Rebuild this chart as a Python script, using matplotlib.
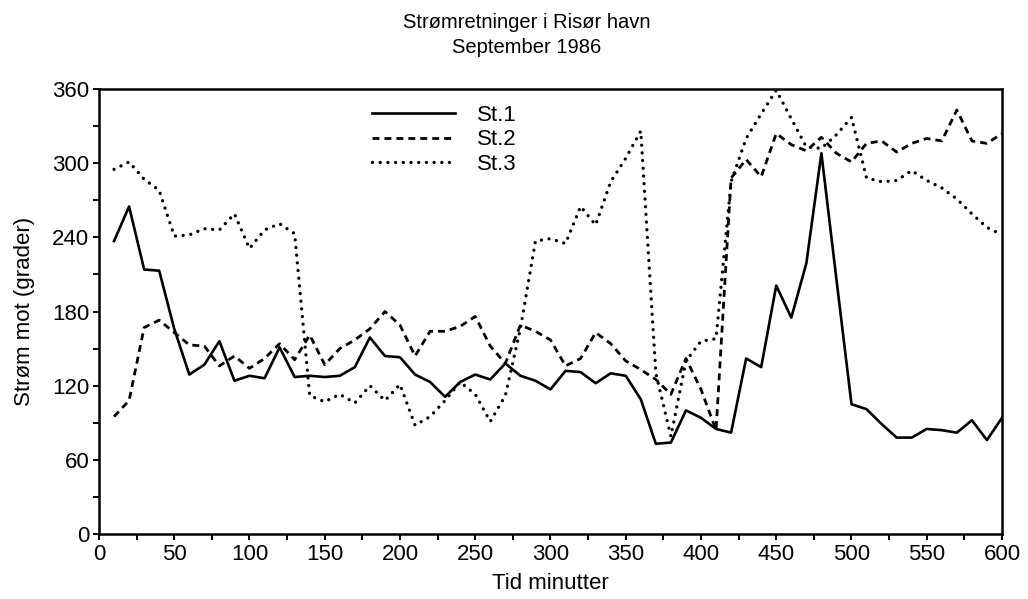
import matplotlib.pyplot as plt
from matplotlib.ticker import MultipleLocator

# Strømretninger i Risør havn, September 1986
tid = list(range(10, 601, 10))

st1 = [237, 265, 214, 213, 166, 129, 137, 156, 124, 128,
       126, 151, 127, 128, 127, 128, 135, 159, 144, 143,
       129, 123, 111, 123, 129, 125, 138, 128, 124, 117,
       132, 131, 122, 130, 128, 109, 73, 74, 100, 94,
       85, 82, 142, 135, 201, 175, 219, 308, 206, 105,
       101, 89, 78, 78, 85, 84, 82, 92, 76, 94]

st2 = [95, 108, 167, 173, 163, 153, 152, 136, 144, 134,
       142, 154, 141, 161, 137, 150, 157, 166, 180, 169,
       144, 164, 164, 168, 176, 152, 138, 169, 164, 157,
       136, 142, 163, 154, 140, 133, 125, 113, 142, 117,
       84, 288, 303, 289, 324, 315, 310, 321, 308, 301,
       316, 318, 309, 316, 320, 318, 343, 318, 316, 324]

st3 = [295, 301, 287, 278, 241, 242, 247, 246, 259, 231,
       246, 251, 243, 112, 107, 113, 106, 120, 108, 121,
       88, 95, 108, 123, 113, 91, 112, 166, 237, 239,
       235, 265, 250, 285, 304, 326, 130, 79, 140, 156,
       158, 285, 320, 340, 359, 336, 313, 312, 323, 337,
       288, 285, 286, 294, 286, 280, 271, 259, 248, 242]

plt.rcParams['font.family'] = ['Liberation Sans', 'DejaVu Sans']

fig = plt.figure(figsize=(10.28, 5.99), dpi=100)
ax = fig.add_axes([0.0963, 0.1085, 0.8784, 0.7429])

ax.plot(tid, st1, color='black', lw=1.9, linestyle='-', label='St.1')
ax.plot(tid, st2, color='black', lw=2.0, linestyle=(0, (2.5, 1.8)), label='St.2')
ax.plot(tid, st3, color='black', lw=2.4, linestyle=(0, (0.01, 2.3)),
        dash_capstyle='round', label='St.3')

ax.set_xlim(0, 600)
ax.set_ylim(0, 360)
ax.xaxis.set_major_locator(MultipleLocator(50))
ax.xaxis.set_minor_locator(MultipleLocator(25))
ax.yaxis.set_major_locator(MultipleLocator(60))
ax.yaxis.set_minor_locator(MultipleLocator(30))
ax.tick_params(which='both', direction='out', width=1.4, length=4, labelsize=16, pad=3)
for s in ax.spines.values():
    s.set_linewidth(1.8)

ax.set_xlabel('Tid minutter', fontsize=16, labelpad=6)
ax.set_ylabel('Strøm mot (grader)', fontsize=16, labelpad=12)

fig.text(0.512, 0.962, 'Strømretninger i Risør havn', ha='center', va='center', fontsize=14.5)
fig.text(0.512, 0.921, 'September 1986', ha='center', va='center', fontsize=14.5)

ax.legend(loc='upper left', bbox_to_anchor=(0.293, 0.984), borderaxespad=0, frameon=False,
          fontsize=16, handlelength=3.7, handletextpad=1.0, labelspacing=0.15)

fig.savefig('out.png', dpi=100)
